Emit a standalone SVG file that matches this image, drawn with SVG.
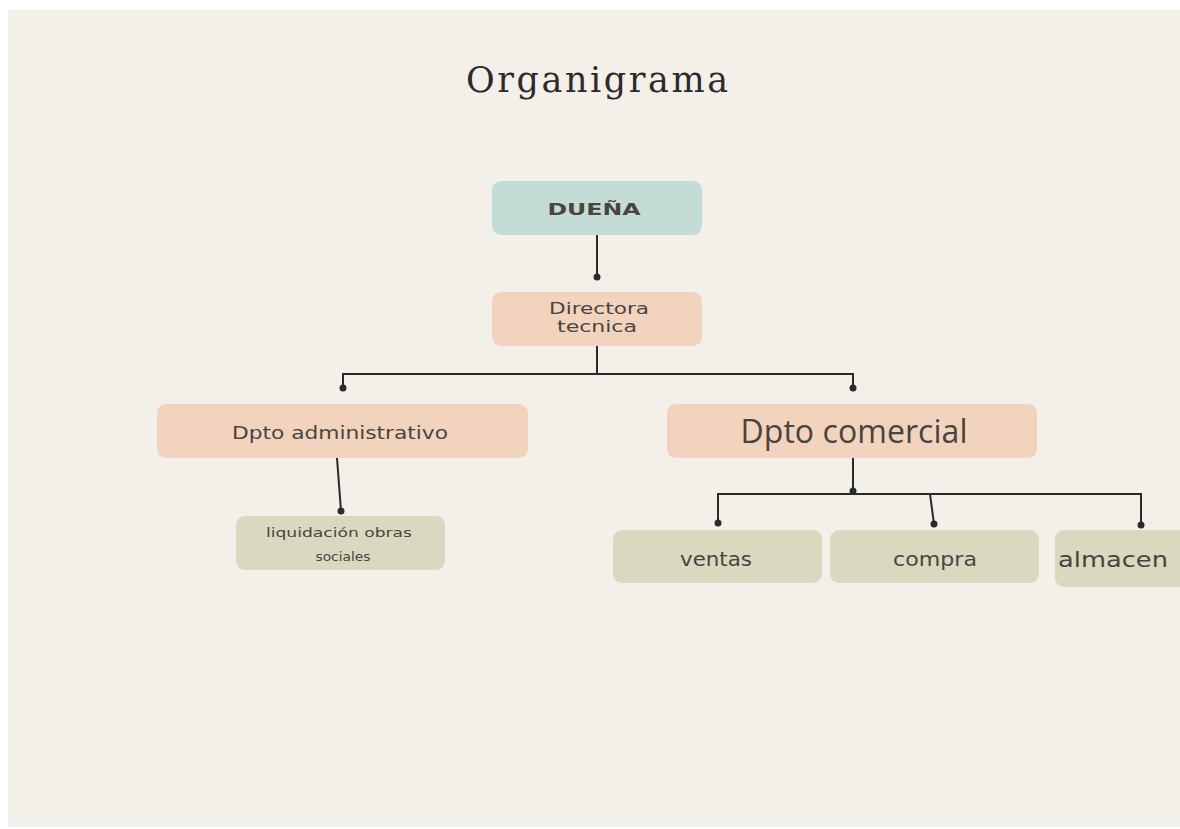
<svg xmlns="http://www.w3.org/2000/svg" width="1180" height="829" viewBox="0 0 1180 829">
<defs>
<style>
.bg{fill:#f3efe9}
.teal{fill:#c3dcd5}
.peach{fill:#f2d3be}
.olive{fill:#d9d9c0}
.t{font-family:"DejaVu Sans","Liberation Sans",sans-serif;fill:#4a443e;text-anchor:middle}
.o{font-family:"Open Sans","Liberation Sans",sans-serif}
.title{font-family:"DejaVu Serif","Liberation Serif",serif;fill:#2e2a27;text-anchor:middle;font-size:35px}
.ln{fill:none;stroke:#2a2a2a;stroke-width:2}
.dot{fill:#2a2a2a}
</style>
</defs>
<rect x="0" y="0" width="1180" height="829" fill="#ffffff"/>
<rect class="bg" x="8" y="10" width="1172" height="817"/>
<text class="title" x="597" y="92" textLength="262" lengthAdjust="spacing">Organigrama</text>
<g id="connectors">
<path class="ln" d="M597 234 V277"/>
<circle class="dot" cx="597" cy="277" r="3.5"/>
<path class="ln" d="M597 346 V374 M343 388 V374 H853 V388"/>
<circle class="dot" cx="343" cy="388" r="3.5"/>
<circle class="dot" cx="853" cy="388" r="3.5"/>
<path class="ln" d="M337 458 L341 511"/>
<circle class="dot" cx="341" cy="511" r="3.5"/>
<path class="ln" d="M853 458 V492 M718 523 V494 H1141 V525 M930 494 L934 524"/>
<circle class="dot" cx="853" cy="491" r="3.5"/>
<circle class="dot" cx="718" cy="523" r="3.5"/>
<circle class="dot" cx="934" cy="524" r="3.5"/>
<circle class="dot" cx="1141" cy="525" r="3.5"/>
</g>
<g id="duena">
<rect class="teal" x="492" y="181" width="210" height="54" rx="9"/>
<text class="t" x="594" y="215" font-size="16" font-weight="700" fill="#2b2b2b" textLength="93" lengthAdjust="spacingAndGlyphs">DUEÑA</text>
</g>
<g id="directora">
<rect class="peach" x="492" y="292" width="210" height="54" rx="9"/>
<text class="t" x="599" y="314" font-size="15" textLength="100" lengthAdjust="spacingAndGlyphs">Directora</text>
<text class="t" x="597" y="332" font-size="15" textLength="80" lengthAdjust="spacingAndGlyphs">tecnica</text>
</g>
<g id="dpto-admin">
<rect class="peach" x="157" y="404" width="371" height="54" rx="9"/>
<text class="t" x="340" y="439" font-size="17" textLength="216" lengthAdjust="spacingAndGlyphs">Dpto administrativo</text>
</g>
<g id="dpto-comercial">
<rect class="peach" x="667" y="404" width="370" height="54" rx="9"/>
<text class="t o" x="854" y="443" font-size="32" textLength="227" lengthAdjust="spacing">Dpto comercial</text>
</g>
<g id="liquidacion">
<rect class="olive" x="236" y="516" width="209" height="54" rx="9"/>
<text class="t" x="339" y="537" font-size="12" textLength="146" lengthAdjust="spacingAndGlyphs">liquidación obras</text>
<text class="t" x="343" y="561" font-size="12" textLength="55" lengthAdjust="spacingAndGlyphs">sociales</text>
</g>
<g id="ventas">
<rect class="olive" x="613" y="530" width="209" height="53" rx="9"/>
<text class="t" x="716" y="566" font-size="19" textLength="72" lengthAdjust="spacingAndGlyphs">ventas</text>
</g>
<g id="compra">
<rect class="olive" x="830" y="530" width="209" height="53" rx="9"/>
<text class="t" x="935" y="566" font-size="19" textLength="84" lengthAdjust="spacingAndGlyphs">compra</text>
</g>
<g id="almacen">
<rect class="olive" x="1055" y="530" width="135" height="57" rx="9"/>
<text class="t" x="1113" y="567" font-size="22" textLength="110" lengthAdjust="spacingAndGlyphs">almacen</text>
</g>
</svg>
